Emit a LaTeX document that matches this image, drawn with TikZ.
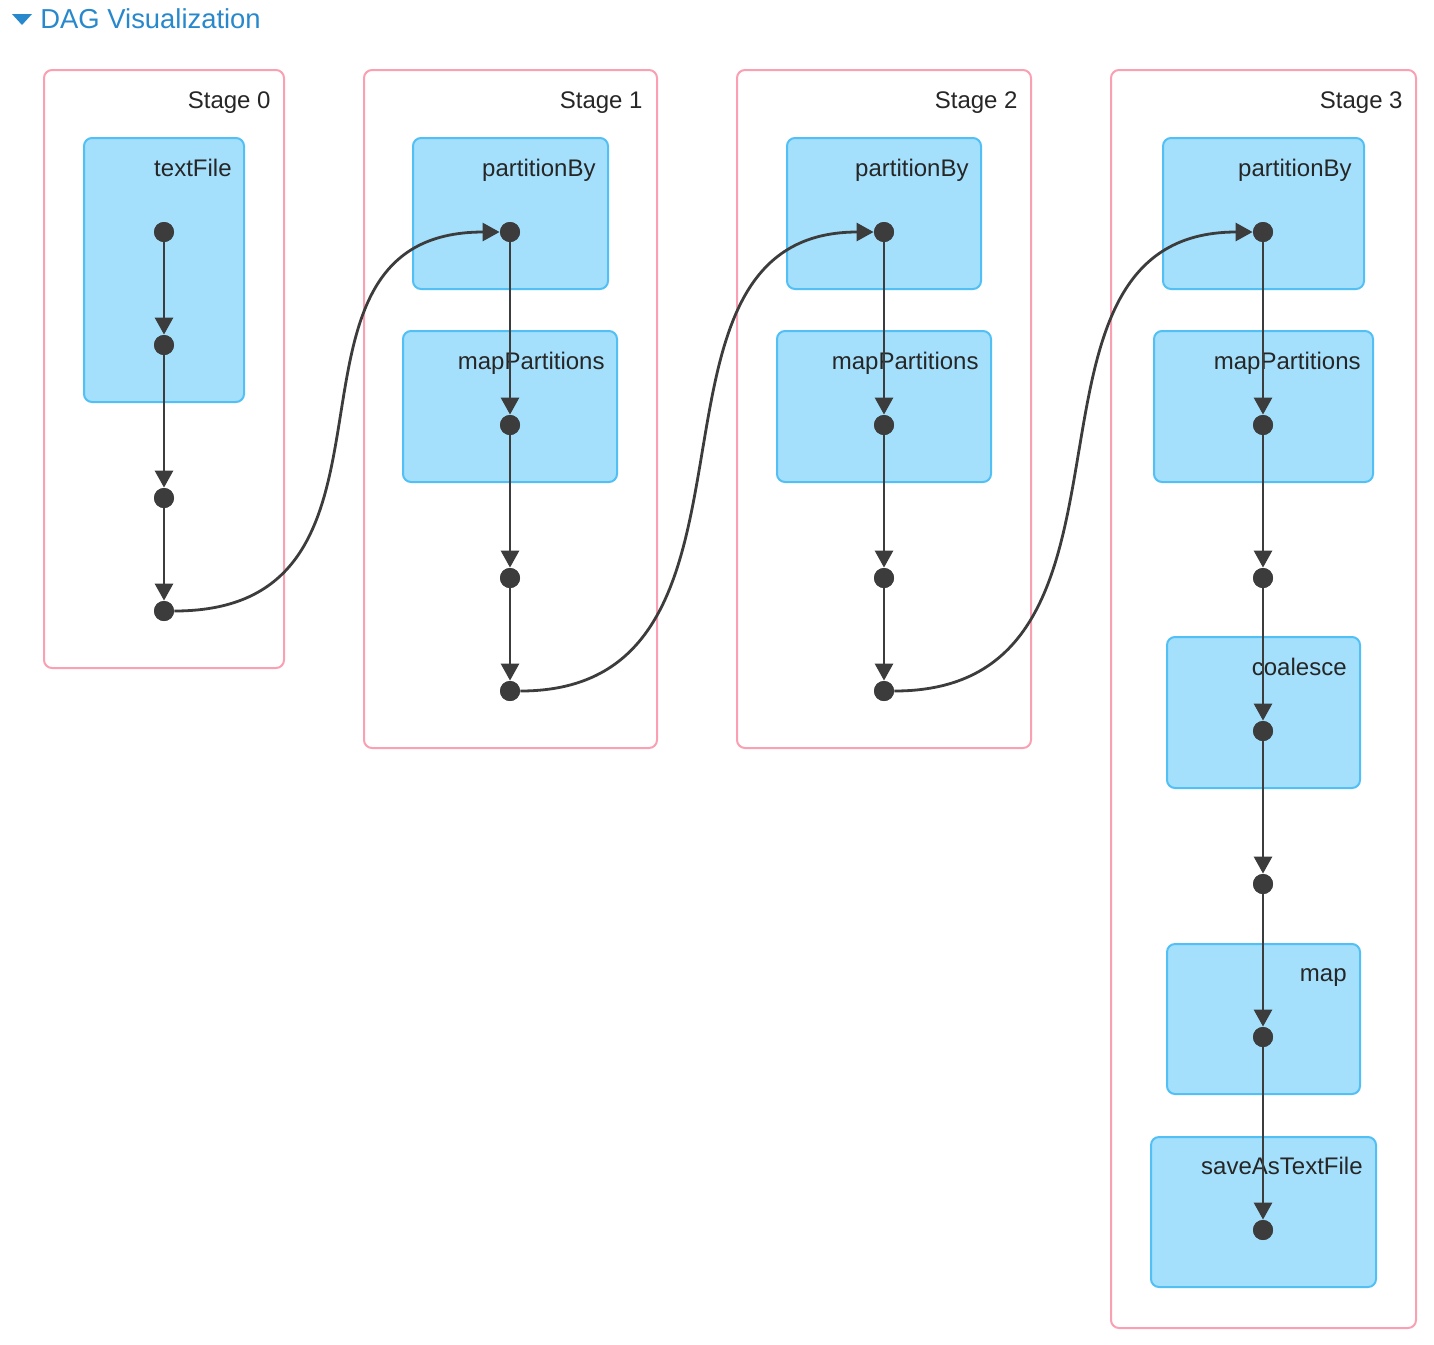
\documentclass[tikz,border=0pt]{standalone}
\usepackage{fontspec}
\setmainfont{Liberation Sans}
\usetikzlibrary{arrows.meta}
\definecolor{titleblue}{RGB}{40,136,204}
\definecolor{stagepink}{RGB}{250,160,178}
\definecolor{opfill}{RGB}{164,224,252}
\definecolor{opline}{RGB}{82,192,245}
\definecolor{ink}{RGB}{60,60,60}
\begin{document}
\begin{tikzpicture}[x=0.5pt,y=-0.5pt,
  stagebox/.style={draw=stagepink,line width=1pt,rounded corners=4pt,fill=white},
  opbox/.style={draw=opline,line width=1pt,rounded corners=4pt,fill=opfill},
  stagelabel/.style={anchor=base east,inner sep=0pt,font=\fontsize{12pt}{14pt}\selectfont,text=black!85},
  oplabel/.style={anchor=base east,inner sep=0pt,font=\fontsize{12pt}{14pt}\selectfont,text=black!85},
  dot/.style={circle,fill=ink,inner sep=0pt,minimum size=10pt},
  edge/.style={draw=ink,line width=1.4pt,-{Triangle[length=8.5pt,width=9pt]}}]
\useasboundingbox (0,0) rectangle (1434,1344);

% heading
\fill[titleblue] (12,14) -- (32,14) -- (22,25) -- cycle;
\node[anchor=base west,inner sep=0pt,text=titleblue,font=\fontsize{13.7pt}{16pt}\selectfont] (title) at (40,28) {DAG Visualization};

% stage frames
\draw[stagebox] (44,70) rectangle (284,668);
\draw[stagebox] (364,70) rectangle (657,748);
\draw[stagebox] (737,70) rectangle (1031,748);
\draw[stagebox] (1111,70) rectangle (1416,1328);
\node[stagelabel] (st0) at (271,108) {Stage 0};
\node[stagelabel] (st1) at (643,108) {Stage 1};
\node[stagelabel] (st2) at (1018,108) {Stage 2};
\node[stagelabel] (st3) at (1403,108) {Stage 3};

% operation boxes
\draw[opbox] (84,138) rectangle (244,402);
\draw[opbox] (413,138) rectangle (608,289);
\draw[opbox] (403,331) rectangle (617,482);
\draw[opbox] (787,138) rectangle (981,289);
\draw[opbox] (777,331) rectangle (991,482);
\draw[opbox] (1163,138) rectangle (1364,289);
\draw[opbox] (1154,331) rectangle (1373,482);
\draw[opbox] (1167,637) rectangle (1360,788);
\draw[opbox] (1167,944) rectangle (1360,1094);
\draw[opbox] (1151,1137) rectangle (1376,1287);

\node[oplabel] (l0a) at (232,176) {textFile};
\node[oplabel] (l1a) at (596,176) {partitionBy};
\node[oplabel] (l1b) at (605,369) {mapPartitions};
\node[oplabel] (l2a) at (969,176) {partitionBy};
\node[oplabel] (l2b) at (979,369) {mapPartitions};
\node[oplabel] (l3a) at (1352,176) {partitionBy};
\node[oplabel] (l3b) at (1361,369) {mapPartitions};
\node[oplabel] (l3c) at (1347,675) {coalesce};
\node[oplabel] (l3d) at (1347,981) {map};
\node[oplabel] (l3e) at (1363,1174) {saveAsTextFile};

% RDD dots
\node[dot] (a0) at (164,232) {};
\node[dot] (a1) at (164,345) {};
\node[dot] (a2) at (164,498) {};
\node[dot] (a3) at (164,611) {};
\node[dot] (b0) at (510,232) {};
\node[dot] (b1) at (510,425) {};
\node[dot] (b2) at (510,578) {};
\node[dot] (b3) at (510,691) {};
\node[dot] (c0) at (884,232) {};
\node[dot] (c1) at (884,425) {};
\node[dot] (c2) at (884,578) {};
\node[dot] (c3) at (884,691) {};
\node[dot] (d0) at (1263,232) {};
\node[dot] (d1) at (1263,425) {};
\node[dot] (d2) at (1263,578) {};
\node[dot] (d3) at (1263,731) {};
\node[dot] (d4) at (1263,884) {};
\node[dot] (d5) at (1263,1037) {};
\node[dot] (d6) at (1263,1230) {};

% dependencies inside stages
\foreach \s/\t in {a0/a1,a1/a2,a2/a3,b0/b1,b1/b2,b2/b3,c0/c1,c1/c2,c2/c3,
                   d0/d1,d1/d2,d2/d3,d3/d4,d4/d5,d5/d6}
  \draw[edge] (\s) -- (\t);

% shuffle dependencies between stages
\draw[edge] (a3.east) .. controls +(262,0) and +(-250,0) .. (b0.west);
\draw[edge] (b3.east) .. controls +(275,0) and +(-260,0) .. (c0.west);
\draw[edge] (c3.east) .. controls +(280,0) and +(-265,0) .. (d0.west);

% dots on top of the lines
\foreach \n in {a0,a1,a2,a3,b0,b1,b2,b3,c0,c1,c2,c3,d0,d1,d2,d3,d4,d5,d6}
  \fill[ink] (\n) circle (5pt);
\end{tikzpicture}
\end{document}
